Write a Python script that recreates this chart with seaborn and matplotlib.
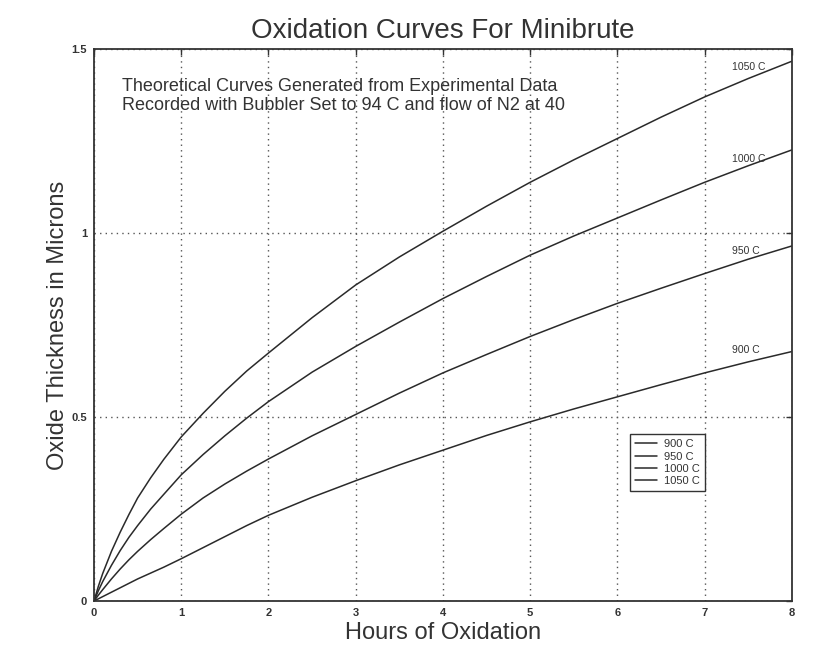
import matplotlib
matplotlib.use("Agg")
import matplotlib.pyplot as plt
import seaborn as sns
import pandas as pd
from matplotlib.lines import Line2D

# ---- data ----
hours = [0, 0.05, 0.1, 0.2, 0.3, 0.4, 0.5, 0.65, 0.8, 1, 1.25, 1.5, 1.75, 2,
         2.5, 3, 3.5, 4, 4.5, 5, 5.5, 6, 6.5, 7, 7.5, 8]
t900 = [0, 0.006, 0.012, 0.024, 0.036, 0.048, 0.060, 0.076, 0.092, 0.115, 0.145, 0.175, 0.205, 0.233,
        0.282, 0.327, 0.370, 0.410, 0.450, 0.487, 0.522, 0.555, 0.588, 0.620, 0.650, 0.678]
t950 = [0, 0.016, 0.031, 0.060, 0.087, 0.112, 0.135, 0.167, 0.197, 0.236, 0.280, 0.318, 0.353, 0.386,
        0.449, 0.507, 0.565, 0.620, 0.670, 0.719, 0.765, 0.809, 0.850, 0.890, 0.929, 0.965]
t1000 = [0, 0.028, 0.053, 0.097, 0.137, 0.173, 0.205, 0.250, 0.290, 0.343, 0.398, 0.449, 0.497, 0.542,
         0.622, 0.692, 0.758, 0.822, 0.882, 0.940, 0.992, 1.041, 1.090, 1.138, 1.183, 1.226]
t1050 = [0, 0.040, 0.075, 0.135, 0.187, 0.235, 0.280, 0.335, 0.385, 0.446, 0.510, 0.570, 0.625, 0.674,
         0.770, 0.859, 0.935, 1.005, 1.073, 1.138, 1.199, 1.257, 1.315, 1.370, 1.420, 1.467]
series_names = ["900 C", "950 C", "1000 C", "1050 C"]
label_y = [0.681, 0.951, 1.200, 1.451]
x_ticks = [0, 1, 2, 3, 4, 5, 6, 7, 8]
y_ticks = [0, 0.5, 1, 1.5]
y_tick_labels = ["0", "0.5", "1", "1.5"]

rows = []
for name, vals in zip(series_names, [t900, t950, t1000, t1050]):
    for h, v in zip(hours, vals):
        rows.append({"Hours": h, "Thickness": v, "Temp": name})
df = pd.DataFrame(rows)

sns.set_style("white")
plt.rcParams["font.family"] = ["Liberation Sans", "DejaVu Sans"]

fig = plt.figure(figsize=(8.26, 6.54), dpi=100)
ax = fig.add_axes([0.1138, 0.081, 0.8450, 0.844])

sns.lineplot(data=df, x="Hours", y="Thickness", hue="Temp",
             palette=["#2a2a2a"] * 4, linewidth=1.1, ax=ax, legend=False,
             hue_order=series_names)

ax.set_xlim(0, 8)
ax.set_ylim(0, 1.5)
ax.set_xticks(x_ticks)
ax.set_yticks(y_ticks)
ax.set_yticklabels(y_tick_labels)
ax.tick_params(direction="in", length=4, width=1, colors="#333333",
               labelsize=8, top=True, right=True, pad=5)
for lab in ax.get_xticklabels() + ax.get_yticklabels():
    lab.set_fontweight("bold")
    lab.set_color("#333333")

ax.grid(True, color="#555555", linestyle=(0, (1, 3)), linewidth=1.0)
for s in ax.spines.values():
    s.set_visible(True)
    s.set_color("#333333")
    s.set_linewidth(1.3)

ax.set_title("Oxidation Curves For Minibrute", fontsize=20, color="#333333", pad=8)
ax.set_xlabel("Hours of Oxidation", fontsize=17, color="#333333", labelpad=3)
ax.set_ylabel("Oxide Thickness in Microns", fontsize=17, color="#333333", labelpad=2)

ax.text(0.04, 0.947,
        "Theoretical Curves Generated from Experimental Data\nRecorded with Bubbler Set to 94 C and flow of N2 at 40",
        transform=ax.transAxes, fontsize=13, color="#333333", va="top", ha="left",
        linespacing=1.1)

for name, yv in zip(series_names, label_y):
    ax.text(7.31, yv, name, fontsize=7.5, color="#333333", ha="left", va="center")

handles = [Line2D([0], [0], color="#2a2a2a", linewidth=1.1) for _ in series_names]
leg = ax.legend(handles, series_names, loc="upper left", bbox_to_anchor=(0.760, 0.312),
                fontsize=8, frameon=True, fancybox=False, framealpha=1,
                edgecolor="#333333", handlelength=2.0, handletextpad=0.6,
                labelspacing=0.2, borderpad=0.45)
leg.get_frame().set_linewidth(1.0)
for t in leg.get_texts():
    t.set_color("#333333")

fig.savefig("out.png", dpi=100)
